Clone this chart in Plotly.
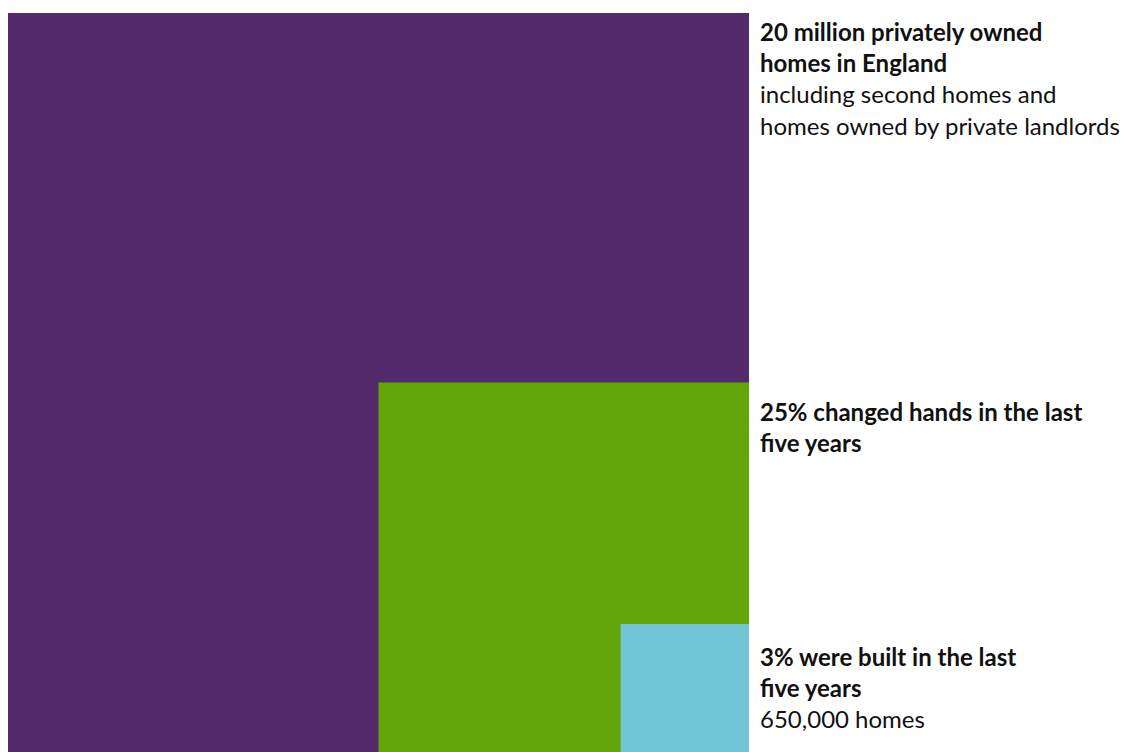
import math
import plotly.graph_objects as go

# Share of England's privately owned homes (20 million) in each group
groups = ["All privately owned homes", "Changed hands in last five years", "Built in last five years"]
shares = [1.00, 0.25, 0.03]
colors = ["#532B6C", "#63A60A", "#72C5D5"]

headlines = [
    "20 million privately owned<br>homes in England",
    "25% changed hands in the last<br>five years",
    "3% were built in the last<br>five years",
]
sublines = [
    "including second homes and<br>homes owned by private landlords",
    "",
    "650,000 homes",
]

FONT = "Lato, Open Sans, sans-serif"
label_yshift = [-2, -12, -16]

fig = go.Figure()

# Nested squares anchored at the bottom-right corner; area is proportional to share
for name, share, color in zip(groups, shares, colors):
    side = math.sqrt(share)
    x0, x1 = 1 - side, 1
    y0, y1 = 0, side
    fig.add_trace(go.Scatter(
        x=[x0, x1, x1, x0, x0],
        y=[y0, y0, y1, y1, y0],
        mode="lines",
        fill="toself",
        fillcolor=color,
        line=dict(width=0, color=color),
        name=name,
        hoverinfo="skip",
        showlegend=False,
    ))

for share, head, sub, ys in zip(shares, headlines, sublines, label_yshift):
    text = "<b>" + head + "</b>"
    if sub:
        text += "<br>" + sub
    fig.add_annotation(
        x=1, y=math.sqrt(share), xref="x", yref="y",
        xanchor="left", yanchor="top", align="left",
        xshift=9, yshift=ys,
        text=text, showarrow=False,
        font=dict(family=FONT, size=24, color="#111111"),
    )

fig.update_xaxes(range=[0, 1], visible=False, fixedrange=True)
fig.update_yaxes(range=[0, 1], visible=False, fixedrange=True)
fig.update_layout(
    width=1127, height=752,
    margin=dict(l=8, r=378, t=13, b=0),
    paper_bgcolor="white", plot_bgcolor="white",
)

fig.write_html("out.html")
